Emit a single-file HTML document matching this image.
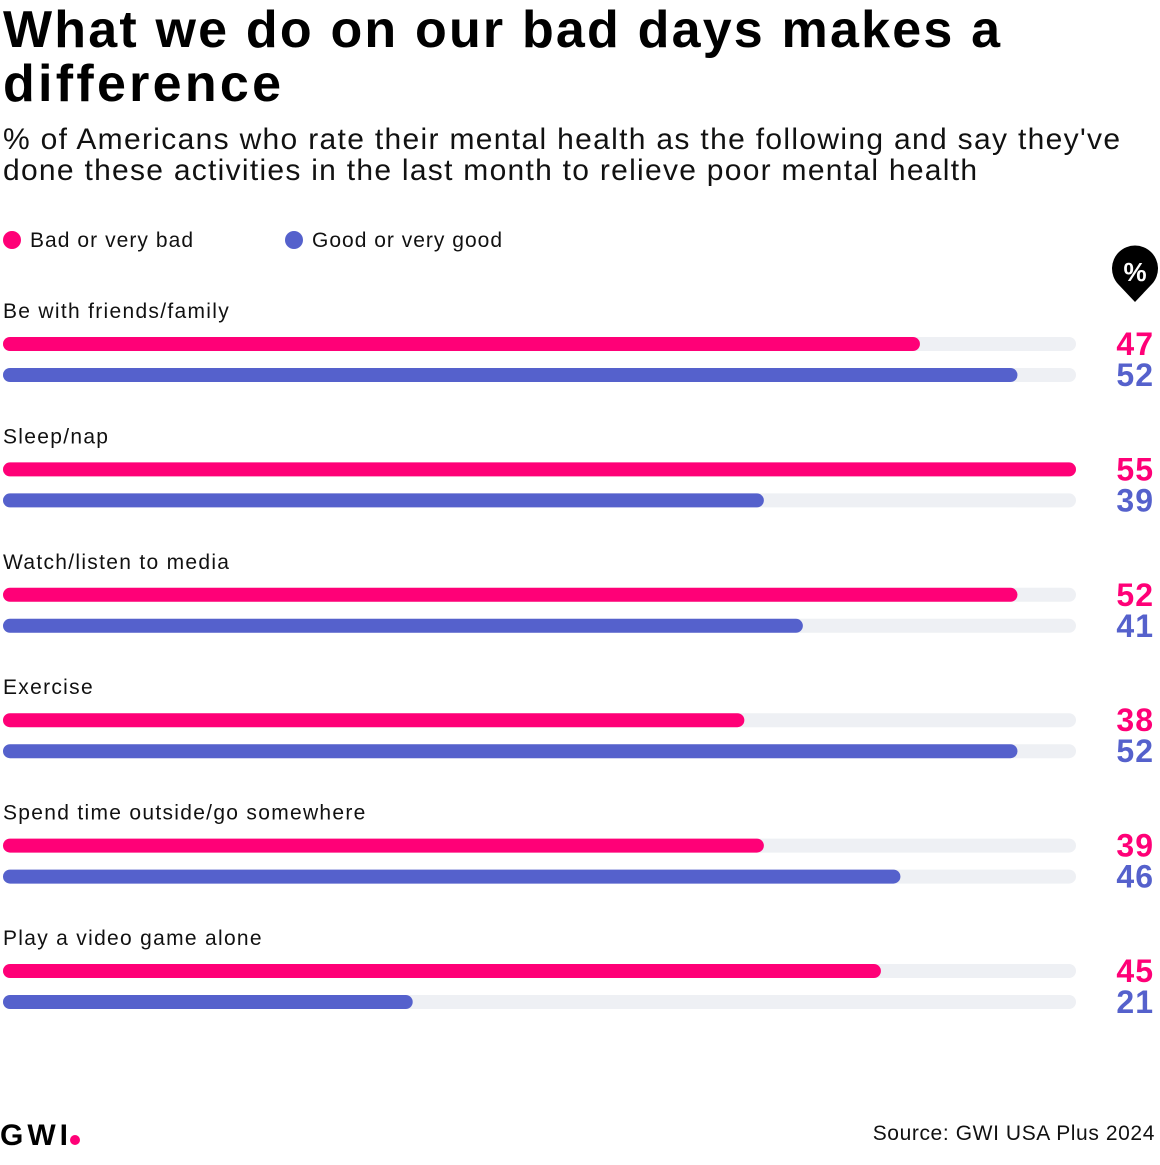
<!DOCTYPE html>
<html><head><meta charset="utf-8"><style>
body{margin:0;background:#fff;}
svg text{font-family:"Liberation Sans",sans-serif;}
</style></head><body>
<svg width="1160" height="1160" viewBox="0 0 1160 1160" xmlns="http://www.w3.org/2000/svg">
<text x="3" y="47" font-size="52" font-weight="bold" fill="#000" textLength="997">What we do on our bad days makes a</text>
<text x="3" y="101" font-size="52" font-weight="bold" fill="#000" textLength="278">difference</text>
<text x="3" y="149" font-size="30" fill="#111" textLength="1117">% of Americans who rate their mental health as the following and say they've</text>
<text x="3" y="180" font-size="30" fill="#111" textLength="974">done these activities in the last month to relieve poor mental health</text>
<g>
<circle cx="12" cy="240" r="9" fill="#ff0077"/>
<text x="30" y="247" font-size="21" fill="#111" textLength="163">Bad or very bad</text>
<circle cx="294" cy="240" r="9" fill="#5561cc"/>
<text x="312" y="247" font-size="21" fill="#111" textLength="190">Good or very good</text>
</g>
<g>
<path d="M1135,302 L1118,284 A23,23 0 1 1 1152,284 Z" fill="#000"/>
<text x="1135" y="281" font-size="26" font-weight="bold" fill="#fff" text-anchor="middle">%</text>
</g>
<g id="bars"></g>
<text x="0" y="1145" font-size="30" font-weight="bold" fill="#000" textLength="68">GWI</text>
<circle cx="75" cy="1140" r="5" fill="#ff0077"/>
<text x="1155" y="1140" font-size="21" fill="#111" text-anchor="end" letter-spacing="0.6">Source: GWI USA Plus 2024</text>
</svg>
<script>
const categories=["Be with friends/family","Sleep/nap","Watch/listen to media","Exercise","Spend time outside/go somewhere","Play a video game alone"];
const badValues=[47,55,52,38,39,45];
const goodValues=[52,39,41,52,46,21];
const maxValue=55;
const NS="http://www.w3.org/2000/svg";
const g=document.getElementById("bars");
const x0=3,x1=1076;
function xs(v){return (x1-x0)*v/maxValue;}
function mk(tag,attrs){const e=document.createElementNS(NS,tag);for(const k in attrs)e.setAttribute(k,attrs[k]);g.appendChild(e);return e;}
categories.forEach((c,i)=>{
  const y=344+i*125.4;
  const lab=mk("text",{x:3,y:y-26,"font-size":21,fill:"#111","letter-spacing":"1.3"});
  lab.textContent=c;
  
  
  [[badValues[i],"#ff0077",0,"bad"],[goodValues[i],"#5561cc",31,"good"]].forEach(([v,col,off,nm])=>{
    const t=mk("rect",{x:x0,y:y+off-7,width:x1-x0,height:14,rx:7,fill:"#eef0f4"});
    
    
    const b=mk("rect",{x:x0,y:y+off-7,width:xs(v),height:14,rx:7,fill:col});
    
    
    const tv=mk("text",{x:1154,y:y+off+11,"font-size":32,"font-weight":"bold",fill:col,"text-anchor":"end","letter-spacing":"1"});
    tv.textContent=v;
    
    
  });
});
</script>
</body></html>
